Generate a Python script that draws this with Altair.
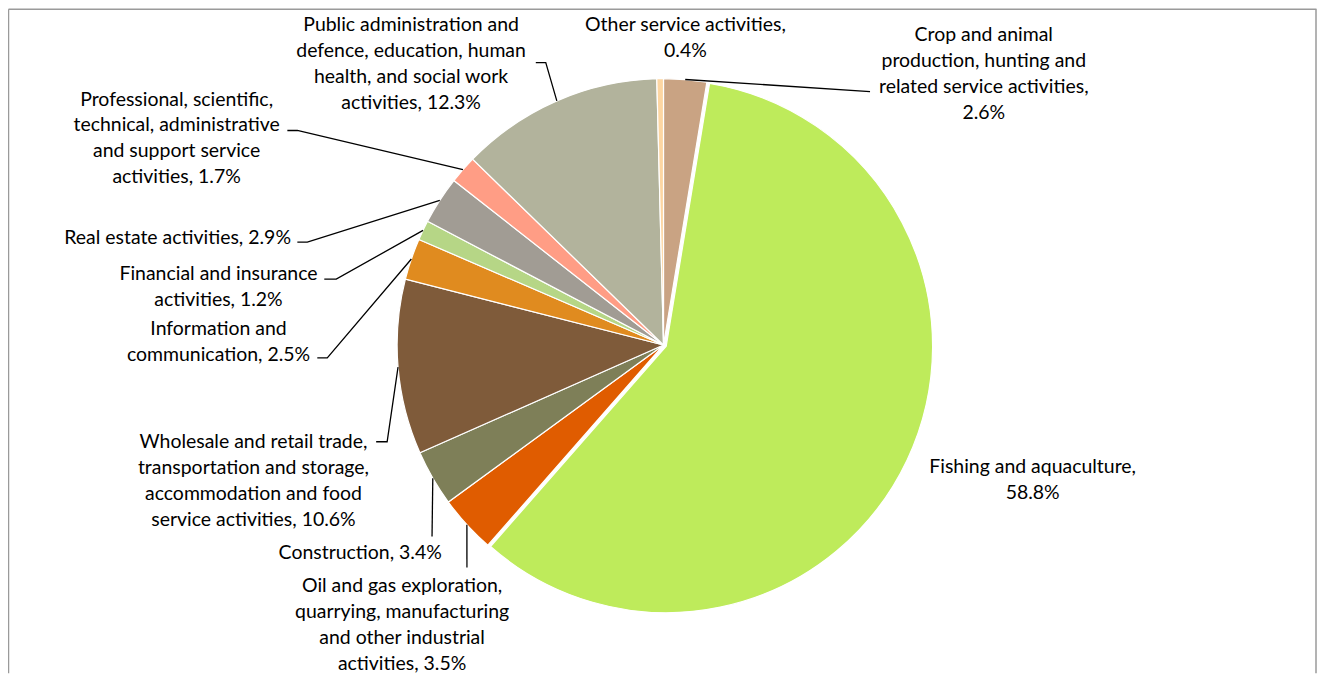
import math
import altair as alt
import pandas as pd

# ---------------- data ----------------
categories = [
    "Crop and animal production, hunting and related service activities",
    "Fishing and aquaculture",
    "Oil and gas exploration, quarrying, manufacturing and other industrial activities",
    "Construction",
    "Wholesale and retail trade, transportation and storage, accommodation and food service activities",
    "Information and communication",
    "Financial and insurance activities",
    "Real estate activities",
    "Professional, scientific, technical, administrative and support service activities",
    "Public administration and defence, education, human health, and social work activities",
    "Other service activities",
]
values = [2.6, 58.8, 3.5, 3.4, 10.6, 2.5, 1.2, 2.9, 1.7, 12.3, 0.4]
label_lines = [
    ["Crop and animal", "production, hunting and", "related service activities,", "2.6%"],
    ["Fishing and aquaculture,", "58.8%"],
    ["Oil and gas exploration,", "quarrying, manufacturing", "and other industrial", "activities, 3.5%"],
    ["Construction, 3.4%"],
    ["Wholesale and retail trade,", "transportation and storage,", "accommodation and food", "service activities, 10.6%"],
    ["Information and", "communication, 2.5%"],
    ["Financial and insurance", "activities, 1.2%"],
    ["Real estate activities, 2.9%"],
    ["Professional, scientific,", "technical, administrative", "and support service", "activities, 1.7%"],
    ["Public administration and", "defence, education, human", "health, and social work", "activities, 12.3%"],
    ["Other service activities,", "0.4%"],
]
colors = ["#C9A383", "#BEEB5B", "#E05C00", "#7E7F58", "#7F5B3A", "#E08B1F",
          "#B6D686", "#A19C94", "#FF9D85", "#B2B39C", "#FDD6A2"]
explode = [0, 3, 0, 0, 0, 0, 0, 0, 0, 0, 0]

# ---------------- layout (page pixel coordinates) ----------------
W, H = 1312, 666
OX, OY = 8, 8
CX, CY, R = 665, 345, 267
FONT = "Lato"
FS = 19.5
LH = 26

# label block: centre x, centre y of the first line
label_pos = [(986, 33), (1035, 466), (403, 586), (361, 552), (254, 441), (219, 328),
             (219, 273), (178, 237), (177, 98), (412, 23), (687, 23)]
# leader line: points after the slice edge (None = no leader)
leader_pts = [
    [(872, 91)],
    None,
    [(468, 568)],
    [(433, 537)],
    [(388, 442), (377, 442)],
    [(328, 358), (318, 358)],
    [(337, 279), (325, 279)],
    [(308, 242), (298, 242)],
    [(298, 130), (288, 130)],
    [(547, 62), (537, 62)],
    None,
]

total = sum(values)
cum = 0.0
mids = []
for v in values:
    mids.append((cum + v / 2) / total * 2 * math.pi)
    cum += v

slices = pd.DataFrame({
    "category": categories,
    "value": values,
    "idx": list(range(len(values))),
    "cx": [CX + e * math.sin(a) for e, a in zip(explode, mids)],
    "cy": [CY - e * math.cos(a) for e, a in zip(explode, mids)],
})

labels = pd.DataFrame({
    "category": categories,
    "text": ["\n".join(l) for l in label_lines],
    "tx": [p[0] for p in label_pos],
    "ty": [p[1] + 7 for p in label_pos],
})

rows = []
for i, pts in enumerate(leader_pts):
    if pts is None:
        continue
    a = mids[i]
    start = (CX + R * math.sin(a), CY - R * math.cos(a))
    for s, (px, py) in enumerate([start] + pts):
        rows.append({"key": i, "seq": s, "lx": px, "ly": py})
leaders = pd.DataFrame(rows)

xs = alt.Scale(domain=[OX, OX + W], range=[0, W])
ys = alt.Scale(domain=[OY, OY + H], range=[0, H])

pie = alt.Chart(slices).transform_window(
    cum="sum(value)", sort=[alt.SortField("idx")], frame=[None, 0]
).transform_calculate(
    start="datum.cum - datum.value"
).mark_arc(outerRadius=R, stroke="white", strokeWidth=1.2).encode(
    x=alt.X("cx:Q", scale=xs, axis=None),
    y=alt.Y("cy:Q", scale=ys, axis=None),
    theta=alt.Theta("start:Q", scale=alt.Scale(domain=[0, total], range=[0, 2 * math.pi])),
    theta2="cum:Q",
    color=alt.Color("category:N", scale=alt.Scale(domain=categories, range=colors), legend=None),
)

lines = alt.Chart(leaders).mark_line(color="black", strokeWidth=1.3).encode(
    x=alt.X("lx:Q", scale=xs, axis=None),
    y=alt.Y("ly:Q", scale=ys, axis=None),
    detail="key:N",
    order="seq:Q",
)

texts = alt.Chart(labels).mark_text(
    font=FONT, fontSize=FS, lineBreak="\n", lineHeight=LH,
    align="center", baseline="alphabetic", color="#000000",
).encode(
    x=alt.X("tx:Q", scale=xs, axis=None),
    y=alt.Y("ty:Q", scale=ys, axis=None),
    text="text:N",
)

dummy = pd.DataFrame({"a": [0]})
border_top = alt.Chart(dummy).mark_rule(color="#9a9a9a", strokeWidth=1.5).encode(
    x=alt.value(0.5), x2=alt.value(W - 0.5), y=alt.value(0.5))
border_left = alt.Chart(dummy).mark_rule(color="#9a9a9a", strokeWidth=1.5).encode(
    x=alt.value(0.5), y=alt.value(0.5), y2=alt.value(H))
border_right = alt.Chart(dummy).mark_rule(color="#9a9a9a", strokeWidth=1.5).encode(
    x=alt.value(W - 1), y=alt.value(0.5), y2=alt.value(H))

chart = alt.layer(pie, lines, texts, border_top, border_left, border_right).properties(
    width=W, height=H, padding=0, autosize="none"
).configure_view(stroke=None)

chart.save("out.html", embed_options={"renderer": "svg", "actions": False})
